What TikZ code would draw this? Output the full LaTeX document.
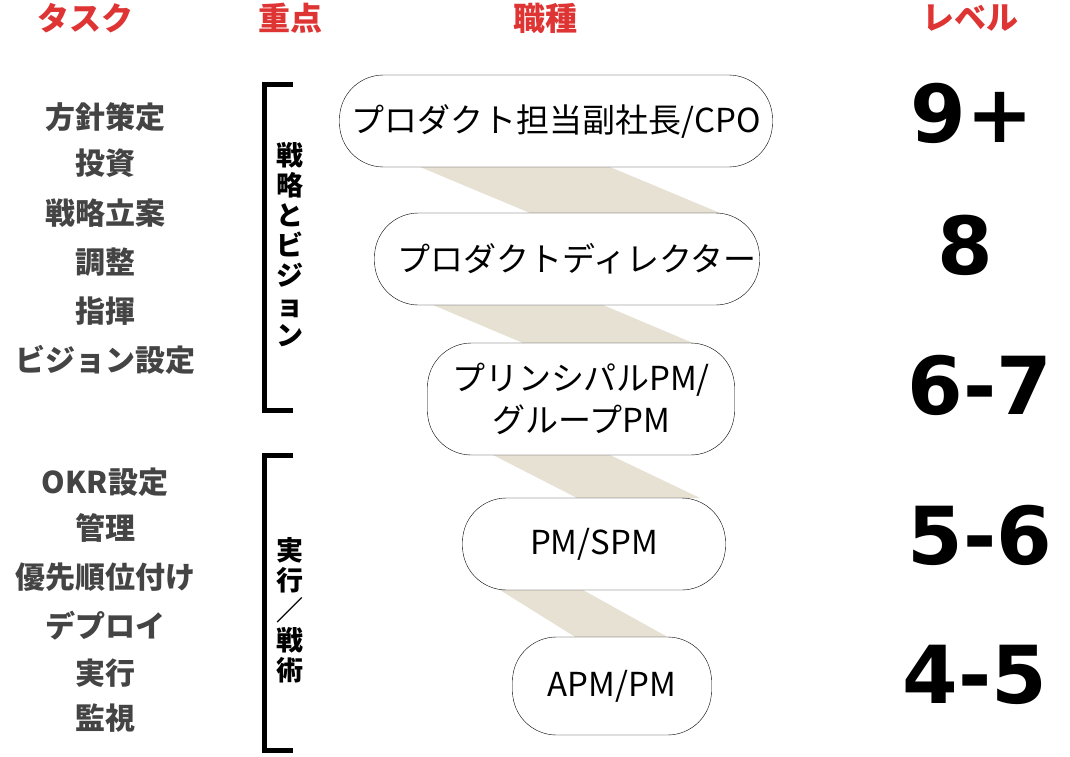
\documentclass[tikz,border=0pt]{standalone}
\usepackage{fontspec}
\newfontfamily\jp{Noto Sans CJK JP}
\newfontfamily\lvl{DejaVu Sans}
\usetikzlibrary{positioning}
\definecolor{headred}{RGB}{222,52,52}
\definecolor{taskgray}{RGB}{68,68,68}
\definecolor{bandbeige}{RGB}{230,225,211}

\begin{document}
\begin{tikzpicture}[x=1pt, y=-1pt,
    head/.style={text=headred, font=\jp\bfseries\fontsize{32}{36}\selectfont},
    task/.style={text=taskgray, font=\jp\bfseries\fontsize{30}{34}\selectfont},
    pill/.style={draw, thin, fill=white, rounded corners=44pt, align=center,
      font=\jp\fontsize{33}{42}\selectfont, inner sep=0pt},
    level/.style={font=\lvl\bfseries\fontsize{80}{84}\selectfont},
    vtext/.style={font=\jp\bfseries\fontsize{27}{30}\selectfont, align=center},
    bracket/.style={line width=5pt}]
    \useasboundingbox (0,0) rectangle (1070,757);

    % headers
    \node[head] (hTask) at (85,18) {タスク};
    \node[head] (hFocus) at (290,18) {重点};
    \node[head] (hRole) at (545,18) {職種};
    \node[head] (hLevel) at (970,18) {レベル};

    % tasks
    \foreach \t/\y in {方針策定/117, 投資/163, 戦略立案/213, 調整/262, 指揮/311,
      ビジョン設定/360, OKR設定/482, 管理/528, 優先順位付け/577, デプロイ/626,
      実行/673, 監視/718}
      \node[task] at (105,\y) {\t};

    % brackets
    \draw[bracket] (293,85) -- (264,85) -- (264,410) -- (293,410);
    \draw[bracket] (293,455) -- (264,455) -- (264,750) -- (293,750);
    \node[vtext] (vStrat) at (290,245) {戦\\略\\と\\ビ\\ジ\\ョ\\ン};
    \node[vtext] (vExec) at (290,610) {実\\行\\／\\戦\\術};

    % bands
    \fill[bandbeige] (420,167) -- (610,167) -- (720,213) -- (530,213) -- cycle;
    \fill[bandbeige] (433,305) -- (603,305) -- (693,343) -- (523,343) -- cycle;
    \fill[bandbeige] (493,455) -- (610,455) -- (700,498) -- (577,498) -- cycle;
    \fill[bandbeige] (500,590) -- (583,590) -- (673,640) -- (580,640) -- cycle;

    % roles
    \node[pill, minimum width=433pt, minimum height=92pt] (cpo) at (556,121) {プロダクト担当副社長/CPO};
    \node[pill, minimum width=385pt, minimum height=92pt] (dir) at (567,259) {\hspace*{20pt}プロダクトディレクター};
    \node[pill, minimum width=307pt, minimum height=112pt] (ppm) at (581,399) {プリンシパルPM/\\グループPM};
    \node[pill, minimum width=263pt, minimum height=92pt] (spm) at (594,544) {PM/SPM};
    \node[pill, minimum width=199pt, minimum height=98pt] (apm) at (612,686) {APM/PM};

    % levels
    \node[level] (l9) at (972,113) {9+};
    \node[level] (l8) at (965,245) {8};
    \node[level] (l67) at (980,385) {6-7};
    \node[level] (l56) at (980,535) {5-6};
    \node[level] (l45) at (975,675) {4-5};
\end{tikzpicture}
\end{document}
